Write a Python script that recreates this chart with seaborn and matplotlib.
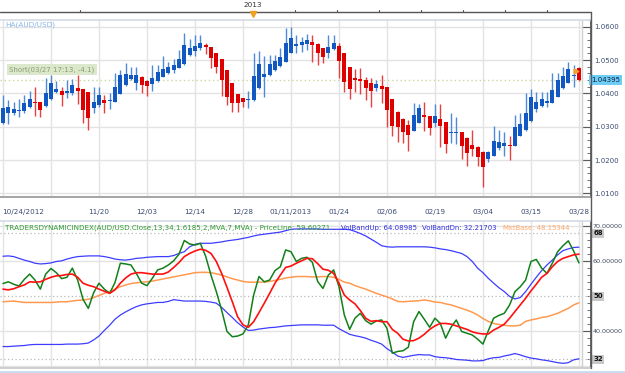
import numpy as np
import pandas as pd
import matplotlib
matplotlib.use("Agg")
import matplotlib.pyplot as plt
import matplotlib.transforms as mtrans
from matplotlib.lines import Line2D
import seaborn as sns

# ---------------- data ----------------
date_labels = ["10/24/2012", "11/20", "12/03", "12/14", "12/28", "01/11/2013",
               "01/24", "02/06", "02/19", "03/04", "03/15", "03/28"]
date_label_bars = [0, 18, 27, 36, 45, 54, 63, 72, 81, 90, 99, 108]
grid_bars = list(range(0, 109, 9))

ha_open = [1.0310, 1.0340, 1.0342, 1.0346, 1.0348, 1.0358, 1.0374, 1.0374, 1.0362, 1.0382,
           1.0405, 1.0406, 1.0402, 1.0402, 1.0415, 1.0412, 1.0405, 1.0355, 1.0365, 1.0380,
           1.0376, 1.0375, 1.0398, 1.0425, 1.0442, 1.0430, 1.0448, 1.0438, 1.0428, 1.0437,
           1.0450, 1.0460, 1.0470, 1.0477, 1.0488, 1.0515, 1.0528, 1.0535, 1.0545, 1.0540,
           1.0522, 1.0502, 1.0470, 1.0430, 1.0398, 1.0386, 1.0379, 1.0380, 1.0415, 1.0450,
           1.0454, 1.0470, 1.0483, 1.0495, 1.0522, 1.0543, 1.0545, 1.0548, 1.0554, 1.0548,
           1.0535, 1.0522, 1.0532, 1.0542, 1.0520, 1.0478, 1.0445, 1.0443, 1.0440, 1.0430,
           1.0417, 1.0422, 1.0420, 1.0383, 1.0345, 1.0322, 1.0305, 1.0288, 1.0312, 1.0335,
           1.0332, 1.0312, 1.0322, 1.0315, 1.0280, 1.0281, 1.0283, 1.0265, 1.0245, 1.0238,
           1.0225, 1.0202, 1.0213, 1.0235, 1.0243, 1.0244, 1.0242, 1.0273, 1.0290, 1.0317,
           1.0353, 1.0362, 1.0372, 1.0372, 1.0390, 1.0415, 1.0432, 1.0452, 1.0477]
ha_close = [1.0355, 1.0358, 1.0352, 1.0350, 1.0372, 1.0383, 1.0370, 1.0350, 1.0402, 1.0430,
            1.0412, 1.0394, 1.0406, 1.0424, 1.0408, 1.0350, 1.0325, 1.0375, 1.0395, 1.0370,
            1.0380, 1.0420, 1.0455, 1.0458, 1.0455, 1.0455, 1.0425, 1.0422, 1.0445, 1.0463,
            1.0472, 1.0478, 1.0485, 1.0502, 1.0545, 1.0535, 1.0542, 1.0552, 1.0538, 1.0505,
            1.0480, 1.0440, 1.0388, 1.0370, 1.0372, 1.0375, 1.0382, 1.0452, 1.0488, 1.0457,
            1.0488, 1.0496, 1.0508, 1.0550, 1.0565, 1.0548, 1.0553, 1.0560, 1.0545, 1.0522,
            1.0508, 1.0538, 1.0552, 1.0498, 1.0435, 1.0412, 1.0440, 1.0438, 1.0417, 1.0408,
            1.0427, 1.0412, 1.0350, 1.0302, 1.0300, 1.0285, 1.0275, 1.0334, 1.0355, 1.0330,
            1.0295, 1.0332, 1.0302, 1.0248, 1.0283, 1.0284, 1.0242, 1.0222, 1.0232, 1.0210,
            1.0178, 1.0225, 1.0257, 1.0253, 1.0250, 1.0241, 1.0300, 1.0308, 1.0340, 1.0390,
            1.0375, 1.0382, 1.0377, 1.0410, 1.0440, 1.0452, 1.0472, 1.0455, 1.04395]
ha_high = [1.0395, 1.0380, 1.0375, 1.0382, 1.0395, 1.0408, 1.0420, 1.0374, 1.0445, 1.0455,
           1.0438, 1.0420, 1.0440, 1.0442, 1.0455, 1.0412, 1.0405, 1.0418, 1.0420, 1.0395,
           1.0400, 1.0460, 1.0470, 1.0490, 1.0480, 1.0480, 1.0452, 1.0440, 1.0485, 1.0485,
           1.0512, 1.0495, 1.0502, 1.0530, 1.0582, 1.0562, 1.0575, 1.0575, 1.0552, 1.0540,
           1.0522, 1.0502, 1.0470, 1.0430, 1.0398, 1.0386, 1.0408, 1.0522, 1.0527, 1.0512,
           1.0515, 1.0515, 1.0535, 1.0595, 1.0598, 1.0575, 1.0568, 1.0577, 1.0575, 1.0550,
           1.0535, 1.0575, 1.0575, 1.0552, 1.0520, 1.0478, 1.0472, 1.0475, 1.0450, 1.0445,
           1.0440, 1.0455, 1.0420, 1.0383, 1.0348, 1.0325, 1.0320, 1.0370, 1.0368, 1.0375,
           1.0332, 1.0368, 1.0368, 1.0315, 1.0340, 1.0328, 1.0285, 1.0268, 1.0290, 1.0242,
           1.0228, 1.0228, 1.0302, 1.0290, 1.0285, 1.0272, 1.0335, 1.0340, 1.0402, 1.0413,
           1.0405, 1.0405, 1.0405, 1.0460, 1.0462, 1.0480, 1.0493, 1.0485, 1.0478]
ha_low = [1.0308, 1.0308, 1.0335, 1.0328, 1.0340, 1.0355, 1.0332, 1.0330, 1.0358, 1.0380,
          1.0402, 1.0362, 1.0385, 1.0395, 1.0368, 1.0310, 1.0290, 1.0342, 1.0358, 1.0340,
          1.0352, 1.0375, 1.0398, 1.0422, 1.0440, 1.0410, 1.0402, 1.0392, 1.0408, 1.0435,
          1.0448, 1.0458, 1.0462, 1.0475, 1.0485, 1.0512, 1.0512, 1.0530, 1.0517, 1.0475,
          1.0460, 1.0392, 1.0365, 1.0345, 1.0345, 1.0360, 1.0355, 1.0378, 1.0413, 1.0390,
          1.0452, 1.0468, 1.0480, 1.0493, 1.0520, 1.0520, 1.0525, 1.0530, 1.0495, 1.0485,
          1.0492, 1.0505, 1.0530, 1.0445, 1.0405, 1.0382, 1.0405, 1.0398, 1.0380, 1.0360,
          1.0408, 1.0370, 1.0300, 1.0272, 1.0255, 1.0252, 1.0228, 1.0288, 1.0310, 1.0288,
          1.0275, 1.0300, 1.0240, 1.0222, 1.0250, 1.0248, 1.0202, 1.0183, 1.0212, 1.0182,
          1.0118, 1.0195, 1.0212, 1.0230, 1.0212, 1.0200, 1.0242, 1.0272, 1.0288, 1.0315,
          1.0345, 1.0358, 1.0358, 1.0372, 1.0388, 1.0412, 1.0430, 1.0420, 1.0438]

price_line = [53.7, 54.2, 53.5, 53.0, 54.9, 56.4, 54.7, 52.1, 56.4, 58.0,
              56.8, 55.1, 55.5, 58.1, 54.7, 49.2, 46.6, 51.1, 53.8, 52.1,
              50.9, 54.0, 59.5, 59.3, 59.0, 56.6, 53.8, 53.1, 55.2, 57.6,
              58.1, 59.0, 60.2, 62.1, 66.0, 65.0, 64.7, 65.2, 61.5, 56.1,
              51.4, 46.1, 40.0, 38.5, 38.7, 39.3, 41.9, 50.4, 55.7, 54.2,
              54.7, 57.4, 58.5, 63.3, 62.8, 60.0, 60.9, 61.2, 59.8, 54.3,
              52.3, 56.1, 57.6, 52.8, 44.7, 40.6, 43.8, 45.2, 43.1, 42.1,
              43.0, 43.3, 40.9, 33.8, 34.3, 34.5, 35.5, 42.8, 45.7, 43.5,
              41.2, 43.8, 42.3, 38.1, 41.2, 43.3, 40.0, 39.5, 39.0, 37.8,
              36.4, 40.2, 43.8, 44.6, 45.2, 47.6, 51.4, 52.8, 54.7, 60.0,
              60.6, 58.1, 56.6, 59.5, 62.8, 64.5, 65.9, 63.0, 59.6]
signal_line = [52.1, 51.9, 52.2, 52.8, 53.3, 54.2, 54.1, 54.2, 54.9, 55.5,
               55.9, 56.0, 56.3, 56.4, 55.5, 53.8, 53.2, 52.8, 52.1, 51.5,
               50.9, 51.9, 53.8, 55.3, 56.4, 56.8, 56.8, 56.6, 56.4, 56.4,
               56.4, 57.0, 58.3, 59.7, 61.4, 62.3, 63.0, 63.5, 63.2, 62.3,
               60.0, 56.6, 52.6, 48.5, 44.2, 41.9, 41.2, 42.8, 45.4, 48.1,
               50.9, 53.8, 56.1, 58.3, 58.7, 59.5, 60.2, 60.9, 60.8, 59.4,
               57.8, 57.5, 56.6, 53.8, 50.4, 49.0, 47.9, 46.0, 43.8, 42.9,
               43.1, 42.8, 42.8, 40.6, 39.5, 37.8, 37.3, 37.4, 38.1, 39.2,
               40.6, 41.6, 42.3, 42.3, 42.1, 41.6, 41.1, 40.6, 39.9, 39.5,
               39.3, 39.3, 40.4, 41.2, 42.1, 43.8, 45.7, 47.6, 49.5, 51.6,
               53.5, 55.5, 56.6, 58.5, 60.0, 60.9, 61.4, 61.9, 62.1]
mkt_base = [48.5, 48.6, 48.7, 48.5, 48.3, 48.3, 48.3, 48.3, 48.3, 48.3,
            48.4, 48.5, 48.5, 48.7, 48.9, 49.0, 49.2, 49.7, 50.3, 50.9,
            51.4, 52.1, 52.8, 53.3, 53.7, 53.9, 54.1, 54.2, 54.4, 54.7,
            55.0, 55.3, 55.6, 55.9, 56.2, 56.5, 56.8, 56.9, 56.9, 56.8,
            56.5, 56.1, 55.6, 55.1, 54.7, 54.3, 54.1, 54.1, 54.1, 54.1,
            54.3, 54.6, 54.9, 55.3, 55.5, 55.7, 55.7, 55.7, 55.6, 55.6,
            55.7, 55.7, 55.5, 54.9, 54.1, 53.8, 53.1, 52.6, 52.1, 51.5,
            50.9, 50.4, 49.9, 49.3, 48.6, 48.5, 48.6, 48.7, 48.8, 49.0,
            48.8, 48.4, 48.3, 47.9, 47.6, 47.1, 46.6, 46.1, 45.5, 44.7,
            43.7, 42.9, 42.3, 42.0, 41.8, 41.6, 41.6, 41.8, 42.9, 43.3,
            43.6, 44.0, 44.2, 44.7, 45.2, 45.9, 46.6, 47.6, 48.2]
vol_band_up = [61.5, 61.6, 61.4, 60.9, 60.4, 60.0, 59.5, 59.3, 59.4, 59.6,
               60.0, 60.2, 60.7, 61.1, 61.4, 61.5, 61.6, 61.6, 61.6, 61.4,
               61.1, 60.7, 60.5, 60.4, 60.6, 60.9, 61.0, 61.2, 61.3, 61.4,
               61.4, 61.4, 61.7, 62.3, 62.8, 64.2, 64.9, 65.2, 65.2, 65.2,
               65.4, 65.6, 65.9, 66.1, 66.3, 66.6, 66.9, 67.3, 67.6, 67.8,
               68.0, 68.2, 68.4, 68.8, 69.2, 69.3, 69.3, 69.3, 69.3, 69.3,
               69.2, 69.2, 69.2, 69.2, 69.2, 69.1, 68.6, 68.0, 67.3, 66.4,
               65.5, 64.5, 64.2, 64.1, 64.2, 64.2, 64.2, 64.2, 64.2, 64.2,
               64.1, 63.9, 63.6, 63.4, 63.1, 62.7, 62.3, 61.4, 60.0, 58.1,
               56.8, 55.2, 53.8, 52.5, 51.4, 50.0, 49.3, 49.7, 51.4, 53.5,
               55.5, 57.4, 59.0, 60.4, 61.9, 63.1, 63.6, 64.0, 64.1]
vol_band_dn = [35.7, 35.7, 35.8, 35.9, 36.0, 36.2, 36.3, 36.3, 36.3, 36.3,
               36.3, 36.3, 36.4, 36.4, 36.4, 36.5, 36.7, 37.6, 38.7, 40.3,
               41.8, 43.5, 44.7, 45.6, 46.4, 47.1, 47.6, 47.9, 48.1, 48.3,
               48.3, 48.6, 49.1, 48.9, 48.7, 48.7, 48.7, 48.7, 48.6, 48.4,
               48.1, 46.9, 45.4, 44.0, 42.5, 41.3, 40.3, 40.4, 40.7, 40.9,
               41.1, 41.2, 41.4, 41.6, 41.7, 41.8, 41.9, 41.9, 41.9, 41.9,
               41.8, 41.8, 41.8, 40.8, 40.0, 39.2, 38.8, 38.5, 38.1, 37.5,
               37.0, 36.4, 35.1, 34.1, 33.0, 32.6, 32.9, 33.2, 33.4, 33.3,
               33.3, 32.8, 32.6, 32.5, 32.3, 32.0, 31.9, 31.8, 31.6, 31.6,
               31.7, 32.2, 32.5, 32.6, 33.0, 33.3, 33.7, 33.3, 32.8, 32.4,
               32.2, 31.9, 31.7, 31.4, 31.1, 30.9, 31.1, 31.9, 32.2]

price_ticks = [1.01, 1.02, 1.03, 1.04, 1.05, 1.06]
ind_ticks = [40, 60, 70]
ind_levels = [32, 50, 68]
legend_parts = [
    ("TRADERSDYNAMICINDEX(AUD/USD.Close,13,34,1.6185,2,MVA,7,MVA) - PriceLine: 59.60271", "#2f9a2f"),
    ("VolBandUp: 64.08985", "#3030e0"),
    ("VolBandDn: 32.21703", "#3030e0"),
    ("MktBase: 48.15344", "#ffa868"),
]

# ---------------- layout helpers ----------------
sns.set_theme(style="white")
plt.rcParams["font.family"] = ["DejaVu Sans"]

W, H = 625, 373
fig = plt.figure(figsize=(W / 100, H / 100), dpi=100)
fig.patch.set_facecolor("white")
renderer = fig.canvas.get_renderer()

def rect(x0, y0, x1, y1):
    return [x0 / W, 1 - y1 / H, (x1 - x0) / W, (y1 - y0) / H]

PX = 5.333   # pixels per bar
X0 = 3.0     # pixel position of bar 0

def xbar(px):
    return (px - X0) / PX

def fit_text(x0, x1, y, s, color, size=5.0):
    t = fig.text(x0 / W, 1 - y / H, s, fontsize=size, color=color, ha="left", va="center")
    w = t.get_window_extent(renderer).width
    t.set_fontsize(size * (x1 - x0) / w)
    return t

n = len(ha_open)
idx = np.arange(n)

GRID = "#e3e3e3"
AXC = "#5a5a5a"
LBL = "#3a4a70"

# ---------------- price panel ----------------
ax1 = fig.add_axes(rect(0, 20, 591, 197))
ax1.set_xlim(xbar(0), xbar(591))
ax1.set_ylim(1.00891, 1.06201)
ax1.set_facecolor("white")

ax1.set_xticks(grid_bars)
ax1.set_xticks(idx, minor=True)
ax1.set_yticks(price_ticks)
ax1.set_yticks(np.arange(1.010, 1.0621, 0.002), minor=True)
ax1.grid(True, which="major", color=GRID, lw=1)
ax1.set_xticklabels([])
ax1.yaxis.tick_right()
ax1.set_yticklabels([f"{t:.4f}" for t in price_ticks])
ax1.tick_params(axis="y", which="major", direction="in", length=6.5, width=0.8,
                color=AXC, labelsize=5, labelcolor=LBL, pad=2.5)
ax1.tick_params(axis="y", which="minor", direction="in", length=3, width=0.6, color=AXC)
ax1.tick_params(axis="x", which="major", direction="out", length=5, width=0.8, color=AXC)
ax1.tick_params(axis="x", which="minor", direction="out", length=2.5, width=0.6, color="#888888")
ax1.spines["left"].set_visible(False)
ax1.spines["top"].set_color("#d5dde5")
ax1.spines["bottom"].set_color("#9a9a9a")
ax1.spines["right"].set_color(AXC)
ax1.axvline(xbar(582), color="#d0d0d0", lw=1)

# candles
o = np.array(ha_open); c = np.array(ha_close)
hi = np.array(ha_high); lo = np.array(ha_low)
up = c >= o
body_col = np.where(up, "#1158c2", "#de0000")
wick_col = np.where(up, "#4d8ad8", "#e84040")
ax1.vlines(idx, lo, hi, colors=wick_col, lw=1.0, zorder=3)
bottom = np.minimum(o, c)
height = np.maximum(np.abs(c - o), 0.00035)
ax1.bar(idx, height, bottom=bottom, width=0.72, color=body_col, lw=0, zorder=4)

# last-price dotted line and marker
ax1.plot([xbar(0), xbar(582)], [ha_close[-1]] * 2, color="#c5dba0", lw=1,
         ls=(0, (1, 2)), zorder=2)
ax1.plot([n - 1 - 0.6], [ha_open[-1] - 0.0010], marker=">", ms=3.5, color="#f0a030",
         zorder=6)
ax1.text(1.0, ha_close[-1], f"{ha_close[-1]:.5f}",
         transform=mtrans.blended_transform_factory(ax1.transAxes, ax1.transData),
         ha="left", va="center", fontsize=5, color="#102040",
         bbox=dict(boxstyle="square,pad=0.25", fc="#6ecdf5", ec="none"), zorder=10,
         clip_on=False)

# date labels under price panel
tr = mtrans.blended_transform_factory(ax1.transData, fig.transFigure)
for b, lab in zip(date_label_bars, date_labels):
    ha = "left" if b == 0 else "center"
    xb = b - 0.2 if b == 0 else b
    ax1.text(xb, 1 - 212 / H, lab, transform=tr, ha=ha, va="center",
             fontsize=5.2, color=LBL, clip_on=False)

fig.text(5 / W, 1 - 24.5 / H, "HA(AUD/USD)", fontsize=5.2, color="#86b4ea",
         ha="left", va="center")
fig.text(9 / W, 1 - 69.5 / H, "Short(03/27 17:13, -4.1)", fontsize=5.0,
         color="#8a9e72", ha="left", va="center",
         bbox=dict(boxstyle="square,pad=0.35", fc="#dbe8cb", ec="none"))

# ---------------- top navigator strip ----------------
fig.add_artist(Line2D([0, 591 / W], [1 - 12 / H] * 2, color="#555555", lw=1))
for px in [80, 295, 337, 379, 421, 463, 505, 547]:
    fig.add_artist(Line2D([px / W] * 2, [1 - 12 / H, 1 - 9.5 / H], color="#555555", lw=0.8))
fig.text(253 / W, 1 - 5 / H, "2013", fontsize=5.2, color="#333333", ha="center", va="center")
fig.add_artist(Line2D([253 / W], [1 - 14 / H], marker="v", ms=4, color="#f0a020", lw=0))
fig.add_artist(Line2D([591 / W] * 2, [1 - 12 / H, 1 - 368 / H], color=AXC, lw=1))
fig.add_artist(Line2D([0, 1], [1 - 372 / H] * 2, color="#c8dcf0", lw=2))

# ---------------- indicator panel ----------------
ax2 = fig.add_axes(rect(0, 221, 591, 368))
ax2.set_xlim(xbar(0), xbar(591))
ax2.set_ylim(29.57, 71.57)
ax2.set_xticks(grid_bars)
ax2.set_yticks(ind_ticks)
ax2.set_yticks(np.arange(30, 71, 2), minor=True)
ax2.grid(True, which="major", color=GRID, lw=1)
ax2.axhline(30, color=GRID, lw=1)
for lv in ind_levels:
    ax2.axhline(lv, color="#b8b8b8", lw=0.9, ls=(0, (1, 2)), zorder=1)
ax2.yaxis.tick_right()
ax2.set_yticklabels([f"{t:.5f}" for t in ind_ticks])
ax2.tick_params(axis="y", which="major", direction="in", length=6.5, width=0.8,
                color=AXC, labelsize=4.6, labelcolor="#404a60", pad=1.2)
ax2.tick_params(axis="y", which="minor", direction="in", length=3, width=0.6, color=AXC)
ax2.tick_params(axis="x", which="both", length=0, labelbottom=False)
ax2.spines["left"].set_visible(False)
ax2.spines["top"].set_color("#d5dde5")
ax2.spines["bottom"].set_color("#c8c8c8")
ax2.spines["right"].set_color(AXC)
ax2.axvline(xbar(582), color="#d0d0d0", lw=1)

trl = mtrans.blended_transform_factory(ax2.transAxes, ax2.transData)
for lv in ind_levels:
    ax2.text(1.004, lv, f"{lv}", transform=trl, ha="left", va="center", fontsize=5,
             color="#111111", fontweight="bold",
             bbox=dict(boxstyle="square,pad=0.2", fc="#c8c8c8", ec="none"), clip_on=False)

df = pd.DataFrame({"bar": idx, "price": price_line, "signal": signal_line,
                   "base": mkt_base, "up": vol_band_up, "dn": vol_band_dn})
sns.lineplot(data=df, x="bar", y="up", ax=ax2, color="#3d3dff", lw=0.9, zorder=3)
sns.lineplot(data=df, x="bar", y="dn", ax=ax2, color="#3d3dff", lw=0.9, zorder=3)
sns.lineplot(data=df, x="bar", y="base", ax=ax2, color="#ff9a50", lw=1.1, zorder=4)
sns.lineplot(data=df, x="bar", y="price", ax=ax2, color="#12801a", lw=1.1, zorder=5)
sns.lineplot(data=df, x="bar", y="signal", ax=ax2, color="#ff1010", lw=1.2, zorder=6)
for a in (ax1, ax2):
    a.set_xlabel("")
    a.set_ylabel("")

# legend line (segments fitted to the pixel spans seen in the reference)
spans = [(5, 334), (341, 417), (422, 498), (503, 570)]
for (s, col), (xa, xb_) in zip(legend_parts, spans):
    fit_text(xa, xb_, 228, s, col)

fig.savefig("out.png", dpi=100, facecolor="white")
